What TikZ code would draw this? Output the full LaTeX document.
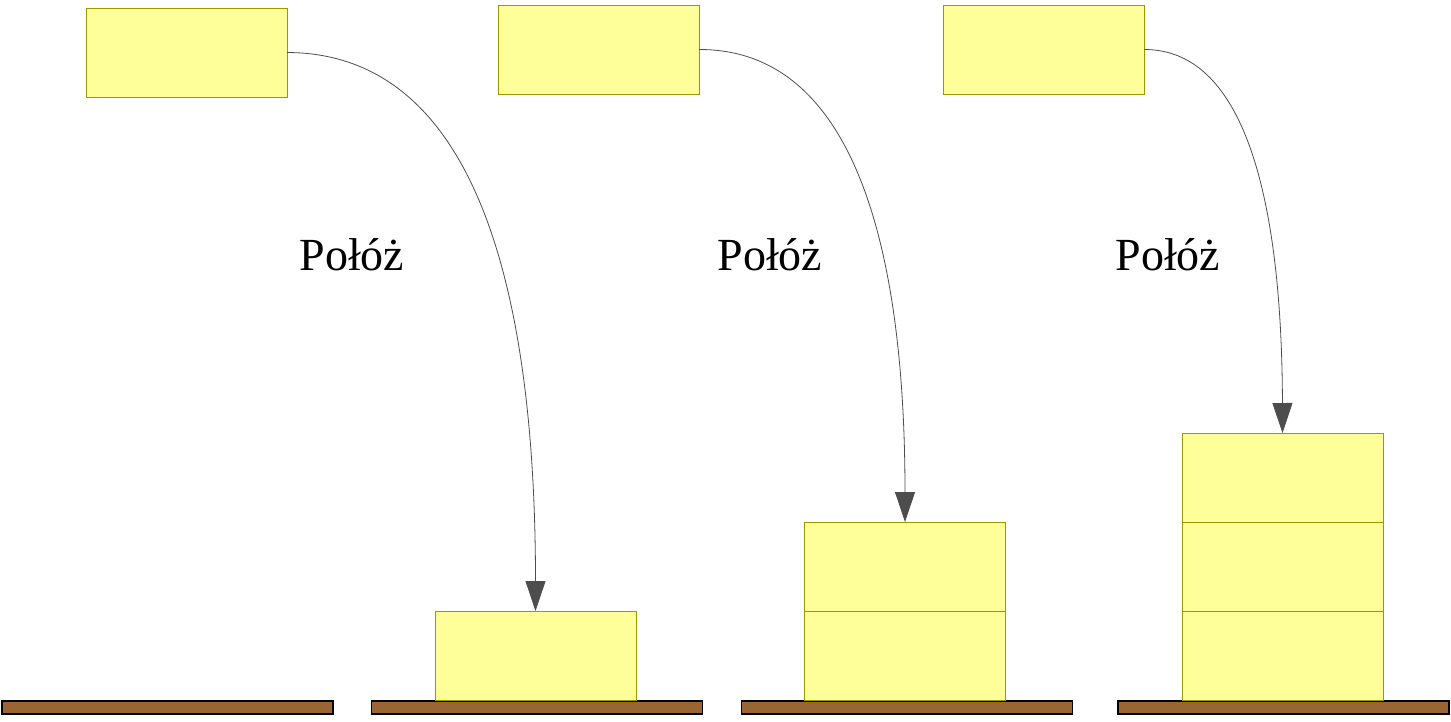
\documentclass[tikz,border=0pt]{standalone}
\usepackage{fontspec}
\setmainfont{Liberation Serif}
\usetikzlibrary{arrows.meta}
\definecolor{boxfill}{HTML}{FFFF99}
\definecolor{boxedge}{HTML}{999900}
\definecolor{wood}{HTML}{996633}
\definecolor{arrowgray}{HTML}{4D4D4D}
\begin{document}
\begin{tikzpicture}[x=1pt,y=-1pt,
  block/.style={draw=boxedge,fill=boxfill,line width=1pt,rectangle,inner sep=0pt,outer sep=0pt,
    minimum width=201pt,minimum height=89pt},
  table/.style={draw=black,fill=wood,line width=1.2pt,rectangle,inner sep=0pt,outer sep=0pt,
    minimum width=331pt,minimum height=13pt},
  move/.style={draw=arrowgray,line width=0.8pt,-{Triangle[length=30pt,width=20pt,fill=arrowgray]}},
  verb/.style={font=\fontsize{46}{52}\selectfont,anchor=base}]
\useasboundingbox (0,0) rectangle (1451,721);

% tables
\node[table] (tab1) at (167.5,707.5) {};
\node[table] (tab2) at (537,707.5) {};
\node[table] (tab3) at (907,707.5) {};
\node[table] (tab4) at (1283.5,707.5) {};

% blocks waiting at the top
\node[block] (top1) at (186.5,52.5) {};
\node[block] (top2) at (598.5,49.5) {};
\node[block] (top3) at (1043.5,49.5) {};

% stacks
\node[block] (a1) at (535.5,655.5) {};

\node[block] (b1) at (905,655.5) {};
\node[block] (b2) at (905,566.5) {};

\node[block] (c1) at (1282.5,655.5) {};
\node[block] (c2) at (1282.5,566.5) {};
\node[block] (c3) at (1282.5,477.5) {};

% moves
\draw[move] (top1.east) .. controls (480,53) and (535.5,300) .. (a1.north);
\draw[move] (top2.east) .. controls (855,49) and (905,250) .. (b2.north);
\draw[move] (top3.east) .. controls (1250,49) and (1282,215) .. (c3.north);

% labels
\node[verb] (l1) at (352,270) {Połóż};
\node[verb] (l2) at (770,270) {Połóż};
\node[verb] (l3) at (1168,270) {Połóż};
\end{tikzpicture}
\end{document}
